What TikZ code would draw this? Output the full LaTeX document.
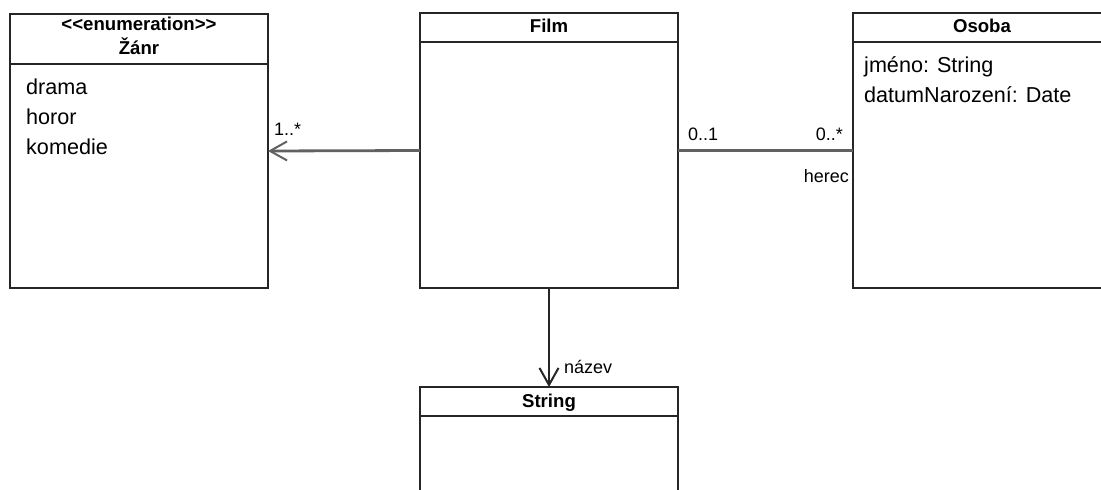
\documentclass[tikz,border=0pt]{standalone}
\usepackage{fontspec}
\setmainfont{Liberation Sans}
\usetikzlibrary{arrows.meta}
\begin{document}
\begin{tikzpicture}[x=1pt,y=-1pt,
  cls/.style={draw=black!85, line width=2pt, rectangle, inner sep=0pt, outer sep=0pt, anchor=north west},
  divider/.style={draw=black!85, line width=2pt},
  hdr/.style={font=\fontsize{18.6}{22}\selectfont\bfseries, inner sep=0pt, anchor=base},
  attr/.style={font=\fontsize{21.6}{26}\selectfont, inner sep=0pt, anchor=base west},
  lbl/.style={font=\fontsize{18}{22}\selectfont, inner sep=0pt},
  hconn/.style={draw=black!62, line width=2.8pt},
  vconn/.style={draw=black!85, line width=2pt},
  opentip/.style={-{Straight Barb[length=17pt,width=19pt,line width=2pt]}}
]
\useasboundingbox (0,0) rectangle (1101,490);
\clip (0,0) rectangle (1101,490);
\fill[white] (0,0) rectangle (1101,490);

% Zanr
\node[cls, minimum width=258pt, minimum height=274pt] (zanr) at (10,14) {};
\draw[divider] (10,64) -- (268,64);
\node[hdr] (zanrst) at (139,30) {<\kern0pt<enumeration>\kern0pt>};
\node[hdr] (zanrname) at (139,54) {Žánr};
\node[attr] (z1) at (26,94) {drama};
\node[attr] (z2) at (26,124) {horor};
\node[attr] (z3) at (26,154) {komedie};

% Film
\node[cls, minimum width=258pt, minimum height=275pt] (film) at (420,13) {};
\draw[divider] (420,41.5) -- (678,41.5);
\node[hdr] (filmname) at (549,32) {Film};

% Osoba
\node[cls, minimum width=270pt, minimum height=275pt] (osoba) at (853,13) {};
\draw[divider] (853,41.5) -- (1110,41.5);
\node[hdr] (osobaname) at (982,32) {Osoba};
\node[attr] (o1) at (864,72) {jméno: String};
\node[attr] (o2) at (864,102) {datumNarození: Date};

% String
\node[cls, minimum width=258pt, minimum height=130pt] (str) at (420,387) {};
\draw[divider] (420,415.5) -- (678,415.5);
\node[hdr] (strname) at (549,407) {String};

% connectors
\draw[hconn, opentip] (film.west) -- (zanr.east);
\draw[hconn] (film.east) -- (osoba.west);
\draw[vconn, opentip] (film.south) -- (str.north);

% labels
\node[lbl, anchor=base west] (l1) at (274,135) {1..*};
\node[lbl, anchor=base west] (l2) at (688,140) {0..1};
\node[lbl, anchor=base east] (l3) at (843,140) {0..*};
\node[lbl, anchor=base east] (l4) at (849,182) {herec};
\node[lbl, anchor=base west] (l5) at (564,373) {název};
\end{tikzpicture}
\end{document}
